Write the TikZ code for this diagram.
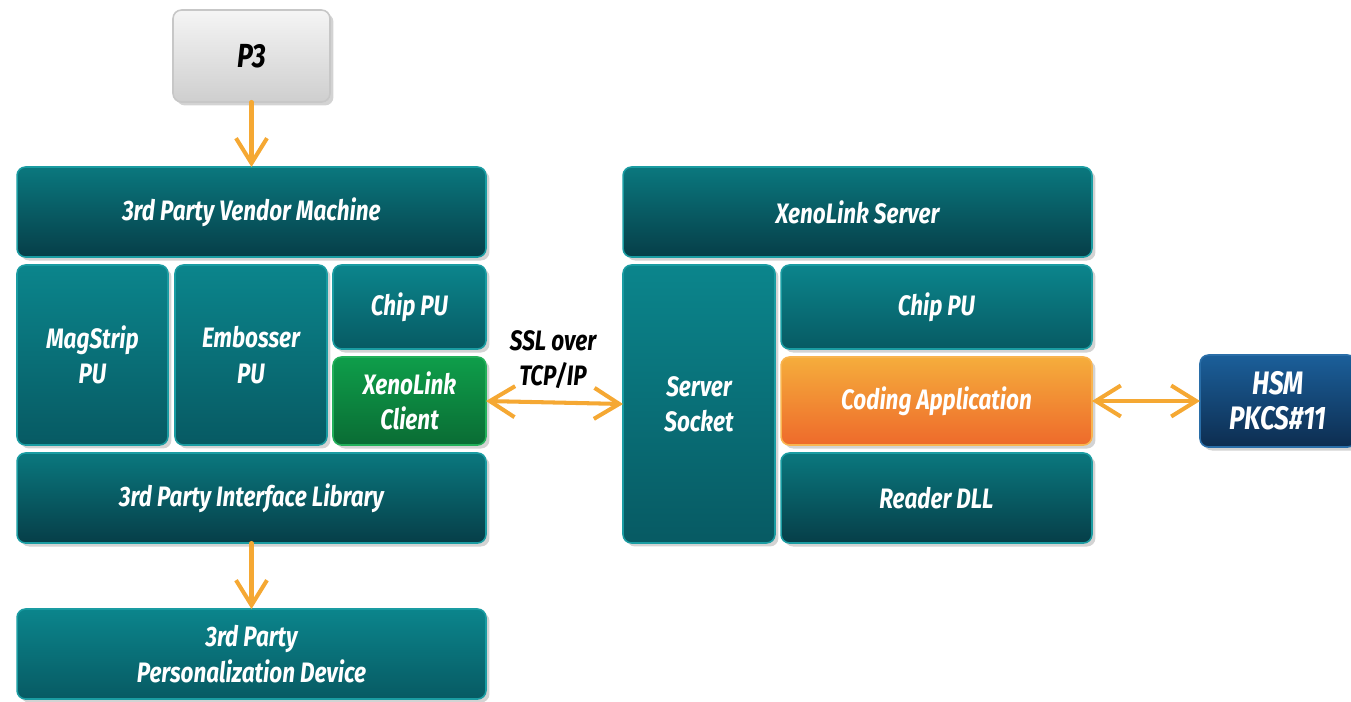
\documentclass[tikz,border=0pt]{standalone}
\usepackage{fontspec}
\setmainfont{Fira Sans}[FakeStretch=0.80]
\usetikzlibrary{arrows.meta,shadows}
\definecolor{arr}{HTML}{F5A833}
\definecolor{tealT}{HTML}{0B858C}
\definecolor{tealB}{HTML}{075A63}
\definecolor{tealDB}{HTML}{063E48}
\definecolor{tealE}{HTML}{1A9CA2}
\definecolor{grnT}{HTML}{0E9E4A}
\definecolor{grnB}{HTML}{0A6C34}
\definecolor{grnE}{HTML}{22B05A}
\definecolor{orT}{HTML}{F5AD3C}
\definecolor{orB}{HTML}{EE6A2B}
\definecolor{orE}{HTML}{F8B450}
\definecolor{hsmT}{HTML}{1B5F9A}
\definecolor{hsmB}{HTML}{0D2D50}
\definecolor{hsmE}{HTML}{2A6EA8}
\tikzset{
  lbl/.style={font=\fontsize{16}{20}\selectfont\bfseries\itshape, align=center},
  base/.style={lbl, rounded corners=0.17cm, inner sep=0pt, outer sep=0pt, line width=0.9pt, text=white,
    drop shadow={opacity=0.35, shadow xshift=0.07cm, shadow yshift=-0.07cm}},
  tealbox/.style={base, draw=tealE, top color=tealT, bottom color=tealB},
  darkbox/.style={base, draw=tealE, top color=tealT!90!black, bottom color=tealDB},
  greenbox/.style={base, draw=grnE, top color=grnT, bottom color=grnB},
  orangebox/.style={base, draw=orE, top color=orT, bottom color=orB},
  hsmbox/.style={base, draw=hsmE, top color=hsmT, bottom color=hsmB, font=\fontsize{18.5}{20}\selectfont\bfseries\itshape},
  greybox/.style={base, draw=black!22, top color=black!4, bottom color=black!19, text=black, font=\fontsize{19}{20}\selectfont\bfseries\itshape},
  conn/.style={draw=arr, line width=2.3pt, line cap=round,
    arrows={-Straight Barb[length=0.5cm, width=0.62cm, line width=2.3pt]}},
  bconn/.style={conn, arrows={Straight Barb[length=0.5cm, width=0.62cm, line width=2.3pt]-Straight Barb[length=0.5cm, width=0.62cm, line width=2.3pt]}},
}
\begin{document}
\begin{tikzpicture}[x=0.02cm, y=-0.02cm]
\useasboundingbox (0,0) rectangle (1351,701);
\node[greybox, minimum width=3.14cm, minimum height=1.84cm] (p3) at (251.5,56) {P3};
\node[darkbox, minimum width=9.38cm, minimum height=1.8cm] (vm) at (251.5,212) {3rd Party Vendor Machine};
\node[tealbox, minimum width=3.02cm, minimum height=3.6cm] (mag) at (92.5,355) {MagStrip\\PU};
\node[tealbox, minimum width=3.04cm, minimum height=3.6cm] (emb) at (251,355) {Embosser\\PU};
\node[tealbox, minimum width=3.06cm, minimum height=1.68cm] (chipl) at (409.5,307) {Chip PU};
\node[greenbox, minimum width=3.06cm, minimum height=1.76cm] (xc) at (409.5,401) {XenoLink\\Client};
\node[darkbox, minimum width=9.38cm, minimum height=1.8cm] (il) at (251.5,498) {3rd Party Interface Library};
\node[tealbox, minimum width=9.38cm, minimum height=1.8cm] (pd) at (251.5,654) {3rd Party\\Personalization Device};
\node[darkbox, minimum width=9.38cm, minimum height=1.8cm] (xs) at (857.5,212) {XenoLink Server};
\node[tealbox, minimum width=3.04cm, minimum height=5.56cm] (ss) at (699,404) {Server\\Socket};
\node[tealbox, minimum width=6.22cm, minimum height=1.68cm] (chipr) at (936.5,307) {Chip PU};
\node[orangebox, minimum width=6.22cm, minimum height=1.76cm] (ca) at (936.5,401) {Coding Application};
\node[darkbox, minimum width=6.22cm, minimum height=1.8cm] (rd) at (936.5,498) {Reader DLL};
\node[hsmbox, minimum width=3.12cm, minimum height=1.84cm] (hsm) at (1278,401) {HSM\\PKCS\#11};
\node[lbl, inner sep=0pt] (ssl) at (553,360) {SSL over\\TCP/IP};
\draw[conn] (p3.south) -- (vm.north);
\draw[conn] (il.south) -- (pd.north);
\draw[bconn] (xc.east) -- (ss.west);
\draw[bconn] (ca.east) -- (hsm.west);
\end{tikzpicture}
\end{document}
